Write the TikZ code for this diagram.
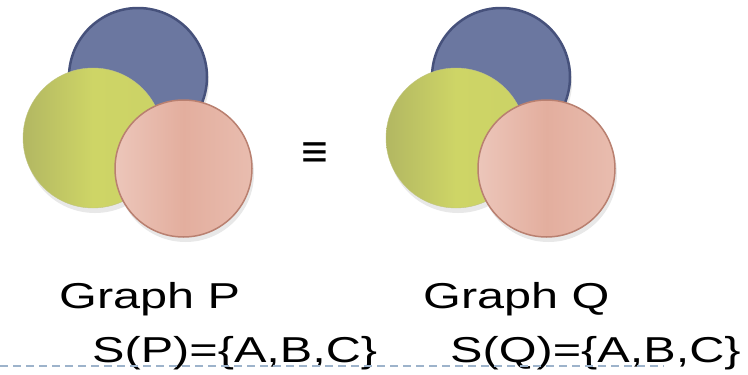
\documentclass[tikz,border=0pt]{standalone}
\usepackage{fontspec}
\setmainfont{Liberation Sans}
\newfontfamily\lblfont[FakeStretch=1.35]{Liberation Sans}
\usetikzlibrary{shadows}

\definecolor{blueface}{HTML}{6B77A0}
\definecolor{blueedge}{HTML}{46517B}
\definecolor{greendark}{HTML}{B2B762}
\definecolor{greenlight}{HTML}{CED566}
\definecolor{pinkface}{HTML}{E3AE9E}
\definecolor{pinklight}{HTML}{ECC6BA}
\definecolor{pinkedge}{HTML}{B98070}
\definecolor{dashblue}{HTML}{9DB3CB}

\begin{document}
\begin{tikzpicture}[x=1pt, y=-1pt,
  ballshadow/.style={drop shadow={opacity=0.18, shadow xshift=2pt, shadow yshift=-5pt}},
  blueball/.style={fill=blueface, draw=blueedge, line width=2.5pt, ballshadow},
  greenball/.style={left color=greendark, right color=greenlight!90!greendark, middle color=greenlight, draw=greendark!80, line width=0.4pt, ballshadow},
  pinkball/.style={left color=pinklight, right color=pinklight!60!pinkface, middle color=pinkface, draw=pinkedge, line width=1.5pt, ballshadow},
  lbl/.style={inner sep=0pt, font=\lblfont\fontsize{36}{36}\selectfont}]
\useasboundingbox (0,0) rectangle (748,375);

% graph P
\begin{scope}
\path[blueball] (138,77) circle (69);
\path[greenball] (93,138) circle (70);
\path[pinkball] (183.5,168.5) circle (68.5);
\end{scope}

% graph Q
\begin{scope}[xshift=363pt]
\path[blueball] (138,77) circle (69);
\path[greenball] (93,138) circle (70);
\path[pinkball] (183.5,168.5) circle (68.5);
\end{scope}

\node[inner sep=0pt, font=\bfseries\fontsize{46}{46}\selectfont] (eq) at (315,155) {≡};

\node[lbl, anchor=base west] (gp) at (59,308) {Graph P};
\node[lbl, anchor=base west] (sp) at (92,362) {S(P)=\{A,B,C\}};
\node[lbl, anchor=base west] (gq) at (423,308) {Graph Q};
\node[lbl, anchor=base west] (sq) at (450,362) {S(Q)=\{A,B,C\}};

\coordinate (dl) at (0,366);
\coordinate (dr) at (664,366);
\draw[dashblue, line width=1.5pt, dash pattern=on 8pt off 5pt] (dl) -- (dr);
\end{tikzpicture}
\end{document}
